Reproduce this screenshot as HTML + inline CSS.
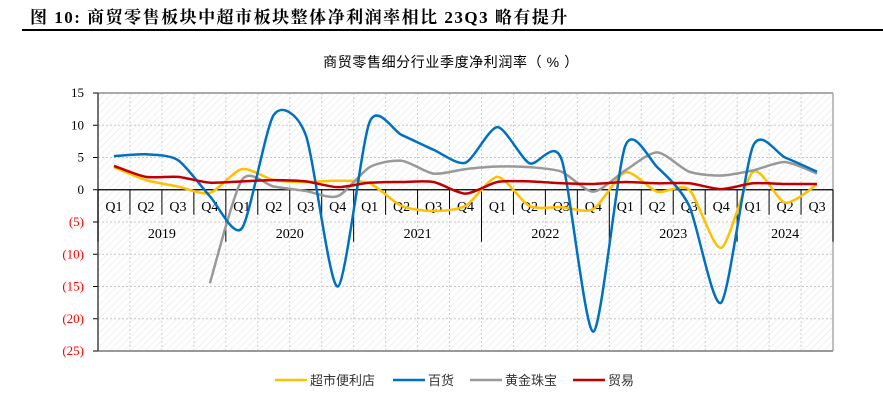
<!DOCTYPE html>
<html><head><meta charset="utf-8">
<style>
body{margin:0;background:#fff;width:883px;height:402px;overflow:hidden;font-family:"Liberation Serif","Noto Serif CJK SC",serif;}
</style></head><body>
<svg id="c" width="883" height="402" xmlns="http://www.w3.org/2000/svg">
<defs>
<pattern id="hatch" width="5" height="5" patternUnits="userSpaceOnUse" patternTransform="rotate(45)">
<rect width="5" height="5" fill="#fff"/><line x1="0" y1="0" x2="0" y2="5" stroke="#ececec" stroke-width="1.5"/>
</pattern>
</defs>
<text x="30" y="23" font-size="17" font-weight="bold" letter-spacing="1.5" font-family="'Liberation Serif','Noto Serif CJK SC',serif">图 10:  商贸零售板块中超市板块整体净利润率相比 23Q3 略有提升</text>
<line x1="22" y1="30" x2="883" y2="30" stroke="#000" stroke-width="2"/>
<text x="451" y="67" font-size="14" letter-spacing="0.6" text-anchor="middle" font-family="'Liberation Sans','Noto Sans CJK SC',sans-serif">商贸零售细分行业季度净利润率（ % ）</text>
<g id="plot"></g>
<g id="legend" font-family="'Liberation Sans','Noto Sans CJK SC',sans-serif" font-size="13"></g>
</svg>
<script>
const categories=["Q1","Q2","Q3","Q4","Q1","Q2","Q3","Q4","Q1","Q2","Q3","Q4","Q1","Q2","Q3","Q4","Q1","Q2","Q3","Q4","Q1","Q2","Q3"];
const years=["2019","2020","2021","2022","2023","2024"];
const yTicks=[15,10,5,0,-5,-10,-15,-20,-25];
const supermarket=[3.5,1.5,0.5,-0.5,3.2,1.5,1.2,1.4,1.0,-2.5,-3.3,-2.5,2.0,-2.5,-2.7,-3.0,2.7,-0.3,0.0,-9.0,2.8,-2.0,0.8];
const deptStore=[5.2,5.5,4.6,-1.0,-6.0,11.6,8.5,-15.0,10.5,8.5,6.2,4.2,9.7,4.1,4.8,-22.0,6.8,3.5,-2.5,-17.5,6.8,5.0,2.8];
const jewelry=[null,null,null,-14.5,1.5,0.5,-0.2,-1.0,3.5,4.5,2.5,3.2,3.6,3.5,2.8,-0.3,3.0,5.8,2.8,2.2,3.0,4.3,2.5];
const trade=[3.7,2.0,2.0,1.1,1.3,1.5,1.3,0.4,1.1,1.2,1.2,-0.6,1.2,1.3,1.0,0.9,1.2,1.0,1.0,0.1,1.0,0.9,0.9];
const seriesNames=["超市便利店","百货","黄金珠宝","贸易"];
const colors=["#FFC000","#0070C0","#999999","#C00000"];

const NS="http://www.w3.org/2000/svg";
const L=98,R=833,T=93,B=351,ymin=-25,ymax=15;
const bw=(R-L)/categories.length;
const X=i=>L+bw*(i+0.5);
const Y=v=>T+(ymax-v)/(ymax-ymin)*(B-T);
const plot=document.getElementById('plot');
function mk(tag,attrs,parent){const e=document.createElementNS(NS,tag);for(const k in attrs)e.setAttribute(k,attrs[k]);(parent||plot).appendChild(e);return e;}

const bg=mk('rect',{x:L,y:T,width:R-L,height:B-T,fill:'url(#hatch)'});


yTicks.forEach(t=>{
  const g=mk('line',{x1:L,x2:R,y1:Y(t),y2:Y(t),stroke:'#c8c8c8','stroke-dasharray':'2,2'});
  
  
  const tk=mk('line',{x1:L-5,x2:L,y1:Y(t),y2:Y(t),stroke:'#000'});
  
  
  const lb=mk('text',{x:L-14,y:Y(t)+4,'text-anchor':'end','font-size':13,fill:t<0?'#ff0000':'#000'});
  lb.textContent=t<0?'('+(-t)+')':String(t);
  
  
});
for(let i=1;i<categories.length;i++){
  const g=mk('line',{x1:L+bw*i,x2:L+bw*i,y1:T,y2:B,stroke:'#d0d0d0','stroke-dasharray':'2,2'});
  
  
}
mk('line',{x1:L,x2:R,y1:T,y2:T,stroke:'#aaa','stroke-width':2});
mk('line',{x1:R,x2:R,y1:T,y2:B,stroke:'#aaa','stroke-width':1.5});
mk('line',{x1:L,x2:R,y1:B,y2:B,stroke:'#999','stroke-width':2});
const ya=mk('line',{x1:L,x2:L,y1:T,y2:B,stroke:'#444','stroke-width':1.5});


const y0=Y(0);
const xa=mk('line',{x1:L,x2:R,y1:y0,y2:y0,stroke:'#000','stroke-width':1.2});


for(let i=0;i<=categories.length;i++){
  const yb=(i%4===0||i===categories.length)?y0+52:y0+25;
  const tk=mk('line',{x1:L+bw*i,x2:L+bw*i,y1:y0,y2:yb,stroke:'#000'});
  
  
}
categories.forEach((c,i)=>{
  const t=mk('text',{x:X(i),y:y0+21,'text-anchor':'middle','font-size':14});
  t.textContent=c;
  
  
});
years.forEach((yr,j)=>{
  const s=j*4,e=Math.min(s+4,categories.length);
  const t=mk('text',{x:(L+bw*s+L+bw*e)/2,y:y0+48,'text-anchor':'middle','font-size':14});
  t.textContent=yr;
  
  
});
function path(vals){
  const pts=[];vals.forEach((v,i)=>{if(v!==null)pts.push([X(i),Y(v)]);});
  let d='M'+pts[0][0]+','+pts[0][1];
  for(let i=0;i<pts.length-1;i++){
    const p0=pts[i-1]||pts[i],p1=pts[i],p2=pts[i+1],p3=pts[i+2]||p2,k=8;
    d+=' C'+(p1[0]+(p2[0]-p0[0])/k)+','+(p1[1]+(p2[1]-p0[1])/k)+' '+(p2[0]-(p3[0]-p1[0])/k)+','+(p2[1]-(p3[1]-p1[1])/k)+' '+p2[0]+','+p2[1];
  }
  return d;
}
const all=[supermarket,deptStore,jewelry,trade];
const snames=['series-supermarket','series-department-store','series-jewelry','series-trade'];
[0,2,1,3].forEach(k=>{
  const p=mk('path',{d:path(all[k]),fill:'none',stroke:colors[k],'stroke-width':2.5});
  
  
});
const lg=document.getElementById('legend');
const lx=[275,393,470,573];
seriesNames.forEach((n,k)=>{
  const g=mk('g',{},lg);
  
  
  mk('line',{x1:lx[k],x2:lx[k]+32,y1:380,y2:380,stroke:colors[k],'stroke-width':2.5},g);
  const t=mk('text',{x:lx[k]+35,y:385,fill:'#333'},g);
  t.textContent=n;
});
</script>
</body></html>
